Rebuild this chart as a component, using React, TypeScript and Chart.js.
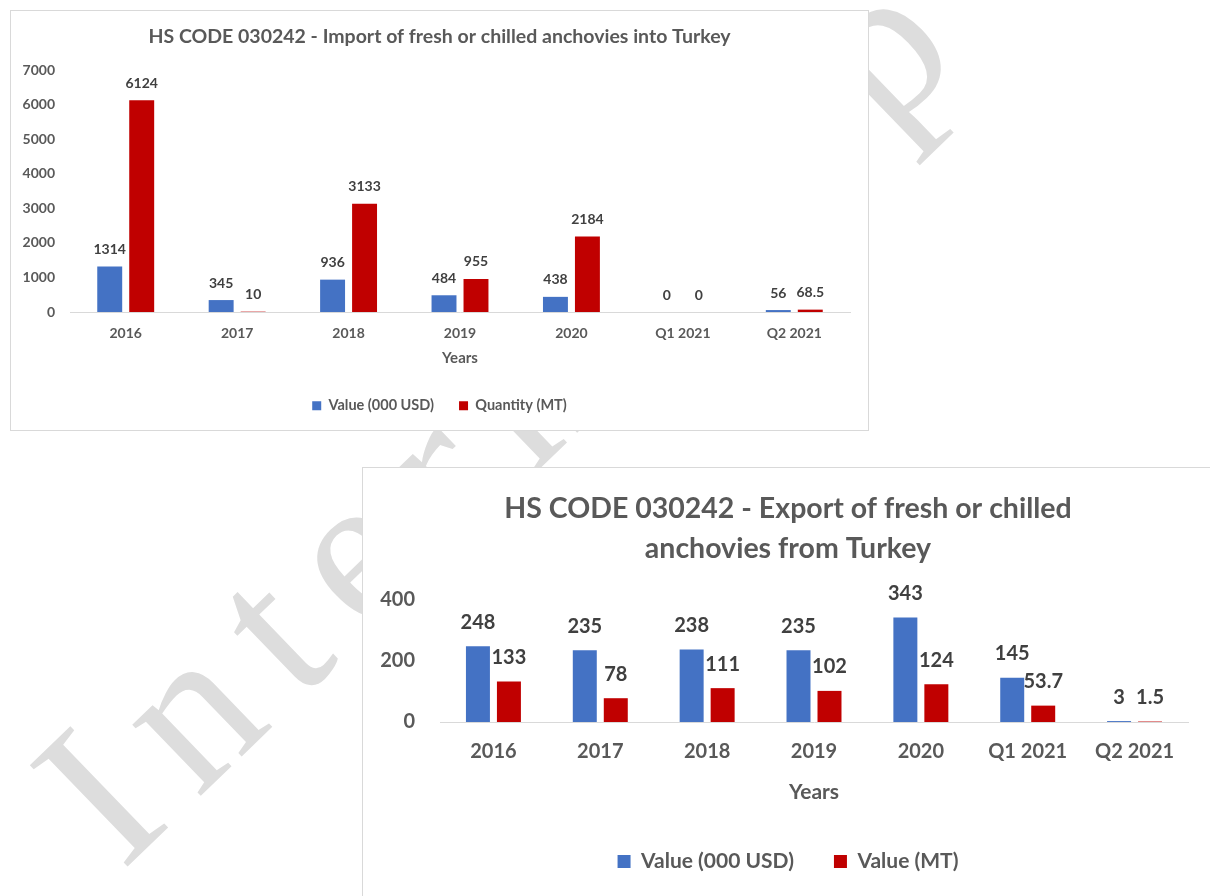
import React, { useEffect, useRef } from "react";
import { Chart, registerables } from "chart.js";

Chart.register(...registerables);

// ---------- data ----------
const categories = ["2016", "2017", "2018", "2019", "2020", "Q1 2021", "Q2 2021"];

const importTitle = "HS CODE 030242 - Import of fresh or chilled anchovies into Turkey";
const importValue = [1314, 345, 936, 484, 438, 0, 56];
const importQuantity = [6124, 10, 3133, 955, 2184, 0, 68.5];
const importSeriesNames = ["Value (000 USD)", "Quantity (MT)"];
const importAxisMax = 7000;
const importAxisStep = 1000;

const exportTitle = ["HS CODE 030242 - Export of fresh or chilled", "anchovies from Turkey"];
const exportValue = [248, 235, 238, 235, 343, 145, 3];
const exportQuantity = [133, 78, 111, 102, 124, 53.7, 1.5];
const exportSeriesNames = ["Value (000 USD)", "Value (MT)"];
const exportAxisMax = 400;
const exportAxisStep = 200;

const xAxisTitle = "Years";
const watermarkText = "Internship";

// ---------- styling ----------
const FONT = "Lato, 'DejaVu Sans', sans-serif";
const BLUE = "#4472C4";
const RED = "#C00000";
const TEXT = "#595959";
const LABEL = "#404040";
const LINE = "#d9d9d9";

const valueLabels = (size: number, offset: number) => ({
  id: "valueLabels",
  afterDatasetsDraw(chart: any) {
    const ctx = chart.ctx;
    ctx.save();
    ctx.font = `bold ${size}px ${FONT}`;
    ctx.fillStyle = LABEL;
    ctx.textAlign = "center";
    ctx.textBaseline = "middle";
    chart.data.datasets.forEach((ds: any, i: number) => {
      const meta = chart.getDatasetMeta(i);
      meta.data.forEach((el: any, j: number) => {
        ctx.fillText(String(ds.data[j]), el.x, el.y - offset);
      });
    });
    ctx.restore();
  },
});

type Spec = {
  width: number;
  height: number;
  title: string | string[];
  titleSize: number;
  titleLineHeight: number;
  titlePad: { top: number; bottom: number };
  names: string[];
  a: number[];
  b: number[];
  max: number;
  step: number;
  catPct: number;
  barPct: number;
  padRight: number;
  padBottom: number;
  tickSize: number;
  xTickPad: number;
  yTickPad: number;
  yWidth: number;
  xHeight: number;
  axisTitleSize: number;
  axisTitlePadBottom: number;
  legendSize: number;
  legendBox: number;
  legendPad: number;
  labelSize: number;
  labelOffset: number;
};

function BarChart({ spec }: { spec: Spec }) {
  const ref = useRef<HTMLCanvasElement | null>(null);
  useEffect(() => {
    if (!ref.current) return;
    const s = spec;
    const chart = new Chart(ref.current, {
      type: "bar",
      data: {
        labels: categories,
        datasets: [
          {
            label: s.names[0],
            data: s.a,
            backgroundColor: BLUE,
            categoryPercentage: s.catPct,
            barPercentage: s.barPct,
          },
          {
            label: s.names[1],
            data: s.b,
            backgroundColor: RED,
            categoryPercentage: s.catPct,
            barPercentage: s.barPct,
          },
        ],
      },
      options: {
        responsive: false,
        animation: false,
        layout: { padding: { left: 0, right: 0, top: 0, bottom: s.padBottom } },
        plugins: {
          title: {
            display: true,
            text: s.title,
            color: TEXT,
            font: { family: FONT, size: s.titleSize, weight: "bold", lineHeight: s.titleLineHeight },
            padding: s.titlePad,
          },
          legend: {
            position: "bottom",
            labels: {
              boxWidth: s.legendBox,
              boxHeight: s.legendBox,
              padding: s.legendPad,
              color: TEXT,
              font: { family: FONT, size: s.legendSize, weight: "bold" },
            },
          },
          tooltip: { enabled: false },
        },
        scales: {
          x: {
            grid: { display: false, drawTicks: false },
            border: { color: LINE, width: 1 },
            ticks: { color: TEXT, font: { family: FONT, size: s.tickSize, weight: "bold" }, padding: s.xTickPad },
            title: {
              display: true,
              text: xAxisTitle,
              color: TEXT,
              font: { family: FONT, size: s.axisTitleSize, weight: "bold" },
              padding: { top: 0, bottom: s.axisTitlePadBottom },
            },
            afterFit: (sc: any) => {
              sc.height = s.xHeight;
            },
          },
          y: {
            min: 0,
            max: s.max,
            grid: { display: false, drawTicks: false },
            border: { display: false },
            ticks: {
              stepSize: s.step,
              padding: s.yTickPad,
              color: TEXT,
              font: { family: FONT, size: s.tickSize, weight: "bold" },
              callback: (v: any) => String(v),
            },
            afterFit: (sc: any) => {
              sc.width = s.yWidth;
            },
          },
          // empty spacer on the right so the chart area ends where the original does
          spacer: {
            type: "linear",
            position: "right",
            display: true,
            grid: { display: false, drawTicks: false },
            border: { display: false },
            ticks: { display: false },
            afterFit: (sc: any) => {
              sc.width = s.padRight;
            },
          },
        },
      } as any,
      plugins: [valueLabels(s.labelSize, s.labelOffset)],
    });
    return () => chart.destroy();
  }, [spec]);
  return <canvas ref={ref} width={spec.width} height={spec.height} style={{ display: "block" }} />;
}

const topSpec: Spec = {
  width: 857,
  height: 419,
  title: importTitle,
  titleSize: 19.5,
  titleLineHeight: 1.2,
  titlePad: { top: 14.3, bottom: 21.3 },
  names: importSeriesNames,
  a: importValue,
  b: importQuantity,
  max: importAxisMax,
  step: importAxisStep,
  catPct: 0.574,
  barPct: 0.78,
  padRight: 18,
  padBottom: 7,
  tickSize: 14,
  xTickPad: 12.6,
  yTickPad: 15,
  yWidth: 59,
  xHeight: 61.5,
  axisTitleSize: 15,
  axisTitlePadBottom: 6.5,
  legendSize: 14.5,
  legendBox: 9,
  legendPad: 25,
  labelSize: 14,
  labelOffset: 17,
};

const bottomSpec: Spec = {
  width: 850,
  height: 438,
  title: exportTitle,
  titleSize: 28.5,
  titleLineHeight: 40 / 28.5,
  titlePad: { top: 21, bottom: 31 },
  names: exportSeriesNames,
  a: exportValue,
  b: exportQuantity,
  max: exportAxisMax,
  step: exportAxisStep,
  catPct: 0.58,
  barPct: 0.774,
  padRight: 25,
  padBottom: 24,
  tickSize: 20,
  xTickPad: 18,
  yTickPad: 25,
  yWidth: 77,
  xHeight: 89,
  axisTitleSize: 21,
  axisTitlePadBottom: 6.4,
  legendSize: 21,
  legendBox: 13,
  legendPad: 40,
  labelSize: 20,
  labelOffset: 24,
};

export default function App() {
  return (
    <div
      style={{
        position: "absolute",
        left: 0,
        top: 0,
        width: 1210,
        height: 896,
        overflow: "hidden",
        background: "#ffffff",
      }}
    >
      <svg width={1210} height={896} style={{ position: "absolute", left: 0, top: 0 }}>
        <text
          x={0}
          y={0}
          transform="translate(122 872) rotate(-44)"
          fontFamily="'Liberation Serif', 'DejaVu Serif', serif"
          fontSize={215}
          letterSpacing={33}
          fill="#dddddd"
        >
          {watermarkText}
        </text>
      </svg>
      <div
        style={{
          position: "absolute",
          left: 10,
          top: 10,
          width: 859,
          height: 421,
          border: `1px solid ${LINE}`,
          boxSizing: "border-box",
          background: "#ffffff",
        }}
      >
        <BarChart spec={topSpec} />
      </div>
      <div
        style={{
          position: "absolute",
          left: 362,
          top: 467,
          width: 852,
          height: 440,
          border: `1px solid ${LINE}`,
          boxSizing: "border-box",
          background: "#ffffff",
        }}
      >
        <BarChart spec={bottomSpec} />
      </div>
    </div>
  );
}
